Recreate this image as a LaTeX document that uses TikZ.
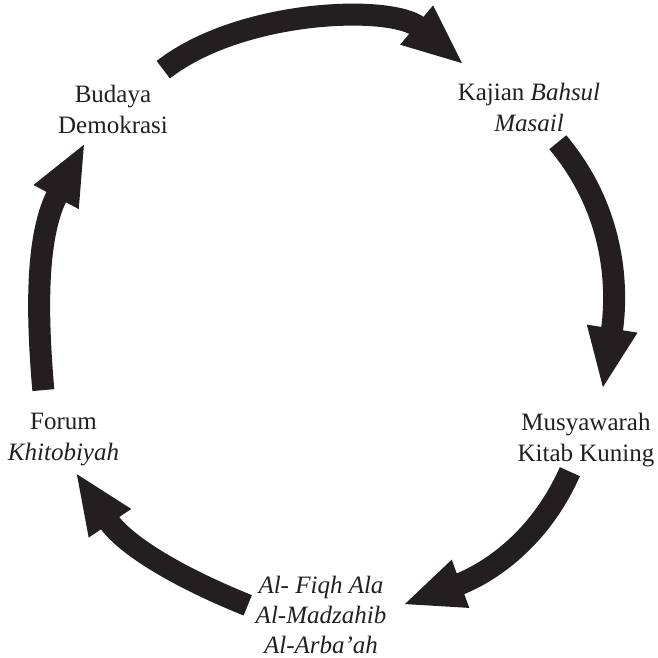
\documentclass[tikz,border=0pt]{standalone}
\usepackage{fontspec}
\setmainfont{Liberation Serif}
\usepackage{xcolor}
\usepackage{tikz}
\usetikzlibrary{arrows.meta}
\definecolor{inkBlack}{HTML}{231F20}

\begin{document}
\begin{tikzpicture}[x=1pt, y=1pt,
  box/.style={align=center, inner sep=3pt, outer sep=0pt, text=inkBlack,
    font=\fontsize{25}{31}\selectfont},
  flow/.style={draw=inkBlack, line width=22pt, -{Triangle[length=62pt, width=46pt]}}]
  \useasboundingbox (0,0) rectangle (657,-658);

  \node[box] (budaya) at (113,-109) {Budaya\\Demokrasi};
  \node[box] (kajian) at (529,-107) {Kajian \textit{Bahsul}\\\textit{Masail}};
  \node[box] (musyawarah) at (586,-439.7) {Musyawarah\\Kitab Kuning};
  \node[box, font=\fontsize{25}{30}\selectfont\itshape] (fiqh) at (321,-614.5) {Al- Fiqh Ala\\Al-Madzahib\\Al-Arba’ah};
  \node[box] (forum) at (63.5,-440) {Forum\\\textit{Khitobiyah}};

  \draw[flow, shorten <=19.5pt, shorten >=23pt] (budaya.38) to[out=38, in=140, looseness=0.9] (kajian.150);
  \draw[flow, shorten <=10.4pt, shorten >=20.2pt] (kajian.-51.7) to[out=-50, in=81] (musyawarah.66.6);
  \draw[flow, shorten <=2.3pt, shorten >=13.8pt] (musyawarah.-117) to[out=-114, in=20] (fiqh.4.8);
  \draw[flow, shorten <=5.4pt, shorten >=3pt] (fiqh.174.6) to[out=158, in=-56] (forum.-71.6);
  \draw[flow, shorten <=20.6pt, shorten >=6.8pt] (forum.122.4) to[out=95, in=-118] (budaya.-132.6);

\end{tikzpicture}
\end{document}
